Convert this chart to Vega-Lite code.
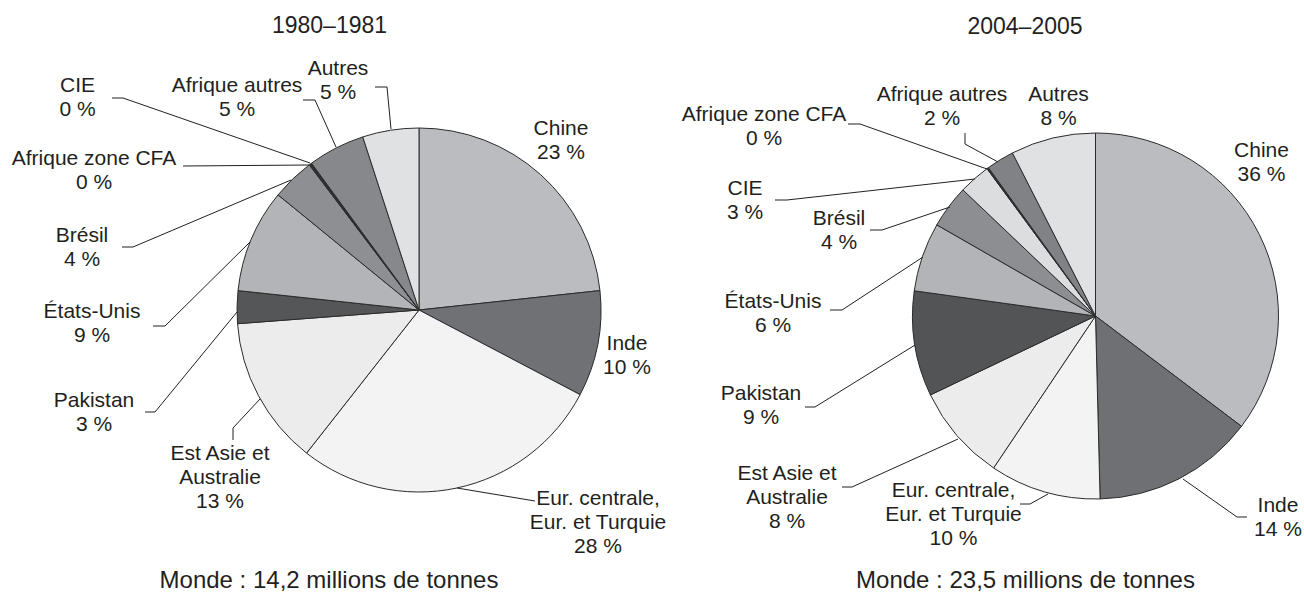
{
  "$schema": "https://vega.github.io/schema/vega-lite/v6.json",
  "padding": 0,
  "spacing": 0,
  "bounds": "flush",
  "config": {"font": "Liberation Sans", "view": {"stroke": null}},
  "datasets": {
    "parts": [
      {"periode": "1980–1981", "pays": "Chine", "rang": 1, "part": 23.3},
      {"periode": "1980–1981", "pays": "Inde", "rang": 2, "part": 9.4},
      {"periode": "1980–1981", "pays": "Eur. centrale, Eur. et Turquie", "rang": 3, "part": 27.9},
      {"periode": "1980–1981", "pays": "Est Asie et Australie", "rang": 4, "part": 13.2},
      {"periode": "1980–1981", "pays": "Pakistan", "rang": 5, "part": 2.9},
      {"periode": "1980–1981", "pays": "États-Unis", "rang": 6, "part": 9.2},
      {"periode": "1980–1981", "pays": "Brésil", "rang": 7, "part": 3.8},
      {"periode": "1980–1981", "pays": "Afrique zone CFA", "rang": 8, "part": 0.12},
      {"periode": "1980–1981", "pays": "CIE", "rang": 9, "part": 0.12},
      {"periode": "1980–1981", "pays": "Afrique autres", "rang": 10, "part": 5.06},
      {"periode": "1980–1981", "pays": "Autres", "rang": 11, "part": 5.0},
      {"periode": "2004–2005", "pays": "Chine", "rang": 1, "part": 35.3},
      {"periode": "2004–2005", "pays": "Inde", "rang": 2, "part": 14.3},
      {"periode": "2004–2005", "pays": "Eur. centrale, Eur. et Turquie", "rang": 3, "part": 9.8},
      {"periode": "2004–2005", "pays": "Est Asie et Australie", "rang": 4, "part": 8.5},
      {"periode": "2004–2005", "pays": "Pakistan", "rang": 5, "part": 9.3},
      {"periode": "2004–2005", "pays": "États-Unis", "rang": 6, "part": 6.1},
      {"periode": "2004–2005", "pays": "Brésil", "rang": 7, "part": 3.8},
      {"periode": "2004–2005", "pays": "CIE", "rang": 8, "part": 2.8},
      {"periode": "2004–2005", "pays": "Afrique zone CFA", "rang": 9, "part": 0.15},
      {"periode": "2004–2005", "pays": "Afrique autres", "rang": 10, "part": 2.45},
      {"periode": "2004–2005", "pays": "Autres", "rang": 11, "part": 7.5}
    ],
    "etiquettes": [
      {"periode": "1980–1981", "texte": "Chine\n23 %", "x": 142, "y": -175},
      {"periode": "1980–1981", "texte": "Inde\n10 %", "x": 208, "y": 40},
      {"periode": "1980–1981", "texte": "Eur. centrale,\nEur. et Turquie\n28 %", "x": 179, "y": 195},
      {"periode": "1980–1981", "texte": "Est Asie et\nAustralie\n13 %", "x": -199, "y": 150},
      {"periode": "1980–1981", "texte": "Pakistan\n3 %", "x": -325, "y": 97},
      {"periode": "1980–1981", "texte": "États-Unis\n9 %", "x": -327, "y": 8},
      {"periode": "1980–1981", "texte": "Brésil\n4 %", "x": -337, "y": -68},
      {"periode": "1980–1981", "texte": "Afrique zone CFA\n0 %", "x": -325, "y": -145},
      {"periode": "1980–1981", "texte": "CIE\n0 %", "x": -341.5, "y": -218},
      {"periode": "1980–1981", "texte": "Afrique autres\n5 %", "x": -182, "y": -218},
      {"periode": "1980–1981", "texte": "Autres\n5 %", "x": -81, "y": -235},
      {"periode": "2004–2005", "texte": "Chine\n36 %", "x": 166, "y": -159},
      {"periode": "2004–2005", "texte": "Inde\n14 %", "x": 182.5, "y": 196},
      {"periode": "2004–2005", "texte": "Eur. centrale,\nEur. et Turquie\n10 %", "x": -142, "y": 181},
      {"periode": "2004–2005", "texte": "Est Asie et\nAustralie\n8 %", "x": -308.5, "y": 164},
      {"periode": "2004–2005", "texte": "Pakistan\n9 %", "x": -334.5, "y": 84},
      {"periode": "2004–2005", "texte": "États-Unis\n6 %", "x": -322.5, "y": -8},
      {"periode": "2004–2005", "texte": "Brésil\n4 %", "x": -256.5, "y": -91},
      {"periode": "2004–2005", "texte": "CIE\n3 %", "x": -350.5, "y": -121},
      {"periode": "2004–2005", "texte": "Afrique zone CFA\n0 %", "x": -331.5, "y": -195},
      {"periode": "2004–2005", "texte": "Afrique autres\n2 %", "x": -153.5, "y": -215.5},
      {"periode": "2004–2005", "texte": "Autres\n8 %", "x": -37, "y": -215}
    ],
    "traits": [
      {"periode": "1980–1981", "trait": "Eur", "ordre": 1, "x": 38, "y": 178},
      {"periode": "1980–1981", "trait": "Eur", "ordre": 2, "x": 116, "y": 191},
      {"periode": "1980–1981", "trait": "Est", "ordre": 1, "x": -186, "y": 130},
      {"periode": "1980–1981", "trait": "Est", "ordre": 2, "x": -186, "y": 118},
      {"periode": "1980–1981", "trait": "Est", "ordre": 3, "x": -159, "y": 89},
      {"periode": "1980–1981", "trait": "Pak", "ordre": 1, "x": -274, "y": 102},
      {"periode": "1980–1981", "trait": "Pak", "ordre": 2, "x": -264, "y": 102},
      {"periode": "1980–1981", "trait": "Pak", "ordre": 3, "x": -182, "y": 2},
      {"periode": "1980–1981", "trait": "EU", "ordre": 1, "x": -266, "y": 16},
      {"periode": "1980–1981", "trait": "EU", "ordre": 2, "x": -254, "y": 16},
      {"periode": "1980–1981", "trait": "EU", "ordre": 3, "x": -169, "y": -68},
      {"periode": "1980–1981", "trait": "Bre", "ordre": 1, "x": -297, "y": -63},
      {"periode": "1980–1981", "trait": "Bre", "ordre": 2, "x": -286, "y": -63},
      {"periode": "1980–1981", "trait": "Bre", "ordre": 3, "x": -128, "y": -130},
      {"periode": "1980–1981", "trait": "CFA", "ordre": 1, "x": -236, "y": -144},
      {"periode": "1980–1981", "trait": "CFA", "ordre": 2, "x": -110, "y": -145},
      {"periode": "1980–1981", "trait": "CIE", "ordre": 1, "x": -307, "y": -212},
      {"periode": "1980–1981", "trait": "CIE", "ordre": 2, "x": -296, "y": -212},
      {"periode": "1980–1981", "trait": "CIE", "ordre": 3, "x": -109, "y": -147},
      {"periode": "1980–1981", "trait": "AfA", "ordre": 1, "x": -116, "y": -210},
      {"periode": "1980–1981", "trait": "AfA", "ordre": 2, "x": -104, "y": -210},
      {"periode": "1980–1981", "trait": "AfA", "ordre": 3, "x": -83, "y": -163},
      {"periode": "1980–1981", "trait": "Aut", "ordre": 1, "x": -44, "y": -223},
      {"periode": "1980–1981", "trait": "Aut", "ordre": 2, "x": -32, "y": -223},
      {"periode": "1980–1981", "trait": "Aut", "ordre": 3, "x": -28, "y": -181},
      {"periode": "2004–2005", "trait": "AfA", "ordre": 1, "x": -130.5, "y": -183},
      {"periode": "2004–2005", "trait": "AfA", "ordre": 2, "x": -130.5, "y": -172},
      {"periode": "2004–2005", "trait": "AfA", "ordre": 3, "x": -97.5, "y": -154},
      {"periode": "2004–2005", "trait": "CFA", "ordre": 1, "x": -247.5, "y": -192},
      {"periode": "2004–2005", "trait": "CFA", "ordre": 2, "x": -235.5, "y": -192},
      {"periode": "2004–2005", "trait": "CFA", "ordre": 3, "x": -108.5, "y": -147},
      {"periode": "2004–2005", "trait": "CIE", "ordre": 1, "x": -320.5, "y": -116},
      {"periode": "2004–2005", "trait": "CIE", "ordre": 2, "x": -308.5, "y": -116},
      {"periode": "2004–2005", "trait": "CIE", "ordre": 3, "x": -120.5, "y": -137},
      {"periode": "2004–2005", "trait": "Bre", "ordre": 1, "x": -225.5, "y": -86},
      {"periode": "2004–2005", "trait": "Bre", "ordre": 2, "x": -213.5, "y": -86},
      {"periode": "2004–2005", "trait": "Bre", "ordre": 3, "x": -145.5, "y": -109},
      {"periode": "2004–2005", "trait": "EU", "ordre": 1, "x": -265.5, "y": -6},
      {"periode": "2004–2005", "trait": "EU", "ordre": 2, "x": -253.5, "y": -6},
      {"periode": "2004–2005", "trait": "EU", "ordre": 3, "x": -172.5, "y": -59},
      {"periode": "2004–2005", "trait": "Pak", "ordre": 1, "x": -290.5, "y": 91},
      {"periode": "2004–2005", "trait": "Pak", "ordre": 2, "x": -280.5, "y": 91},
      {"periode": "2004–2005", "trait": "Pak", "ordre": 3, "x": -180.5, "y": 29},
      {"periode": "2004–2005", "trait": "Est", "ordre": 1, "x": -253.5, "y": 171},
      {"periode": "2004–2005", "trait": "Est", "ordre": 2, "x": -243.5, "y": 171},
      {"periode": "2004–2005", "trait": "Est", "ordre": 3, "x": -137.5, "y": 123},
      {"periode": "2004–2005", "trait": "Eur", "ordre": 1, "x": -75.5, "y": 188},
      {"periode": "2004–2005", "trait": "Eur", "ordre": 2, "x": -65.5, "y": 188},
      {"periode": "2004–2005", "trait": "Eur", "ordre": 3, "x": -47.5, "y": 178},
      {"periode": "2004–2005", "trait": "Inde", "ordre": 1, "x": 87.5, "y": 163},
      {"periode": "2004–2005", "trait": "Inde", "ordre": 2, "x": 141.5, "y": 201},
      {"periode": "2004–2005", "trait": "Inde", "ordre": 3, "x": 151.5, "y": 201}
    ],
    "titres": [
      {"periode": "1980–1981", "texte": "1980–1981", "x": -89.5, "y": -277},
      {"periode": "2004–2005", "texte": "2004–2005", "x": -70.5, "y": -282}
    ],
    "totaux": [
      {"periode": "1980–1981", "texte": "Monde : 14,2 millions de tonnes", "x": -90, "y": 278},
      {"periode": "2004–2005", "texte": "Monde : 23,5 millions de tonnes", "x": -70, "y": 272}
    ]
  },
  "resolve": {"scale": {"x": "independent", "y": "independent", "color": "independent", "theta": "independent"}},
  "hconcat": [
    {
      "width": 675,
      "height": 592,
      "layer": [
        {
          "data": {"name": "parts"},
          "transform": [{"filter": {"field": "periode", "equal": "1980–1981"}}],
          "mark": {"type": "arc", "outerRadius": 182, "stroke": "#2b2b2b", "strokeWidth": 1},
          "encoding": {
            "x": {"datum": 0, "type": "quantitative", "scale": {"domain": [-419, 256], "nice": false, "zero": false}, "axis": null},
            "y": {"datum": 0, "type": "quantitative", "scale": {"domain": [-310, 282], "nice": false, "zero": false, "reverse": true}, "axis": null},
            "theta": {"field": "part", "type": "quantitative", "stack": true},
            "order": {"field": "rang", "type": "quantitative"},
            "color": {
              "field": "pays", "type": "nominal", "legend": null,
              "scale": {
                "domain": ["Chine", "Inde", "Eur. centrale, Eur. et Turquie", "Est Asie et Australie", "Pakistan", "États-Unis", "Brésil", "Afrique zone CFA", "CIE", "Afrique autres", "Autres"],
                "range": ["#bbbcbf", "#707175", "#f3f3f3", "#ececec", "#555658", "#b3b4b7", "#8e8f92", "#3c3c3e", "#2b2b2d", "#87888c", "#e0e1e3"]
              }
            }
          }
        },
        {
          "data": {"name": "traits"},
          "transform": [{"filter": {"field": "periode", "equal": "1980–1981"}}],
          "mark": {"type": "line", "stroke": "#231f20", "strokeWidth": 1},
          "encoding": {
            "x": {"field": "x", "type": "quantitative", "scale": {"domain": [-419, 256], "nice": false, "zero": false}, "axis": null},
            "y": {"field": "y", "type": "quantitative", "scale": {"domain": [-310, 282], "nice": false, "zero": false, "reverse": true}, "axis": null},
            "detail": {"field": "trait", "type": "nominal"},
            "order": {"field": "ordre", "type": "quantitative"}
          }
        },
        {
          "data": {"name": "etiquettes"},
          "transform": [{"filter": {"field": "periode", "equal": "1980–1981"}}],
          "mark": {"type": "text", "fontSize": 21, "lineBreak": "\n", "lineHeight": 24, "align": "center", "baseline": "alphabetic", "color": "#231f20"},
          "encoding": {
            "x": {"field": "x", "type": "quantitative", "scale": {"domain": [-419, 256], "nice": false, "zero": false}, "axis": null},
            "y": {"field": "y", "type": "quantitative", "scale": {"domain": [-310, 282], "nice": false, "zero": false, "reverse": true}, "axis": null},
            "text": {"field": "texte", "type": "nominal"}
          }
        },
        {
          "data": {"name": "titres"},
          "transform": [{"filter": {"field": "periode", "equal": "1980–1981"}}],
          "mark": {"type": "text", "fontSize": 23, "align": "center", "baseline": "alphabetic", "color": "#231f20"},
          "encoding": {
            "x": {"field": "x", "type": "quantitative", "axis": null},
            "y": {"field": "y", "type": "quantitative", "axis": null},
            "text": {"field": "texte", "type": "nominal"}
          }
        },
        {
          "data": {"name": "totaux"},
          "transform": [{"filter": {"field": "periode", "equal": "1980–1981"}}],
          "mark": {"type": "text", "fontSize": 24, "align": "center", "baseline": "alphabetic", "color": "#231f20"},
          "encoding": {
            "x": {"field": "x", "type": "quantitative", "axis": null},
            "y": {"field": "y", "type": "quantitative", "axis": null},
            "text": {"field": "texte", "type": "nominal"}
          }
        }
      ]
    },
    {
      "width": 629,
      "height": 592,
      "layer": [
        {
          "data": {"name": "parts"},
          "transform": [{"filter": {"field": "periode", "equal": "2004–2005"}}],
          "mark": {"type": "arc", "outerRadius": 183, "stroke": "#2b2b2b", "strokeWidth": 1},
          "encoding": {
            "x": {"datum": 0, "type": "quantitative", "scale": {"domain": [-420.5, 208.5], "nice": false, "zero": false}, "axis": null},
            "y": {"datum": 0, "type": "quantitative", "scale": {"domain": [-316, 276], "nice": false, "zero": false, "reverse": true}, "axis": null},
            "theta": {"field": "part", "type": "quantitative", "stack": true},
            "order": {"field": "rang", "type": "quantitative"},
            "color": {
              "field": "pays", "type": "nominal", "legend": null,
              "scale": {
                "domain": ["Chine", "Inde", "Eur. centrale, Eur. et Turquie", "Est Asie et Australie", "Pakistan", "États-Unis", "Brésil", "CIE", "Afrique zone CFA", "Afrique autres", "Autres"],
                "range": ["#bbbcbf", "#6f7074", "#f3f3f3", "#ececec", "#535456", "#b3b4b7", "#8d8e91", "#dcdddf", "#333335", "#818286", "#e0e1e3"]
              }
            }
          }
        },
        {
          "data": {"name": "traits"},
          "transform": [{"filter": {"field": "periode", "equal": "2004–2005"}}],
          "mark": {"type": "line", "stroke": "#231f20", "strokeWidth": 1},
          "encoding": {
            "x": {"field": "x", "type": "quantitative", "scale": {"domain": [-420.5, 208.5], "nice": false, "zero": false}, "axis": null},
            "y": {"field": "y", "type": "quantitative", "scale": {"domain": [-316, 276], "nice": false, "zero": false, "reverse": true}, "axis": null},
            "detail": {"field": "trait", "type": "nominal"},
            "order": {"field": "ordre", "type": "quantitative"}
          }
        },
        {
          "data": {"name": "etiquettes"},
          "transform": [{"filter": {"field": "periode", "equal": "2004–2005"}}],
          "mark": {"type": "text", "fontSize": 21, "lineBreak": "\n", "lineHeight": 24, "align": "center", "baseline": "alphabetic", "color": "#231f20"},
          "encoding": {
            "x": {"field": "x", "type": "quantitative", "scale": {"domain": [-420.5, 208.5], "nice": false, "zero": false}, "axis": null},
            "y": {"field": "y", "type": "quantitative", "scale": {"domain": [-316, 276], "nice": false, "zero": false, "reverse": true}, "axis": null},
            "text": {"field": "texte", "type": "nominal"}
          }
        },
        {
          "data": {"name": "titres"},
          "transform": [{"filter": {"field": "periode", "equal": "2004–2005"}}],
          "mark": {"type": "text", "fontSize": 23, "align": "center", "baseline": "alphabetic", "color": "#231f20"},
          "encoding": {
            "x": {"field": "x", "type": "quantitative", "axis": null},
            "y": {"field": "y", "type": "quantitative", "axis": null},
            "text": {"field": "texte", "type": "nominal"}
          }
        },
        {
          "data": {"name": "totaux"},
          "transform": [{"filter": {"field": "periode", "equal": "2004–2005"}}],
          "mark": {"type": "text", "fontSize": 24, "align": "center", "baseline": "alphabetic", "color": "#231f20"},
          "encoding": {
            "x": {"field": "x", "type": "quantitative", "axis": null},
            "y": {"field": "y", "type": "quantitative", "axis": null},
            "text": {"field": "texte", "type": "nominal"}
          }
        }
      ]
    }
  ]
}
